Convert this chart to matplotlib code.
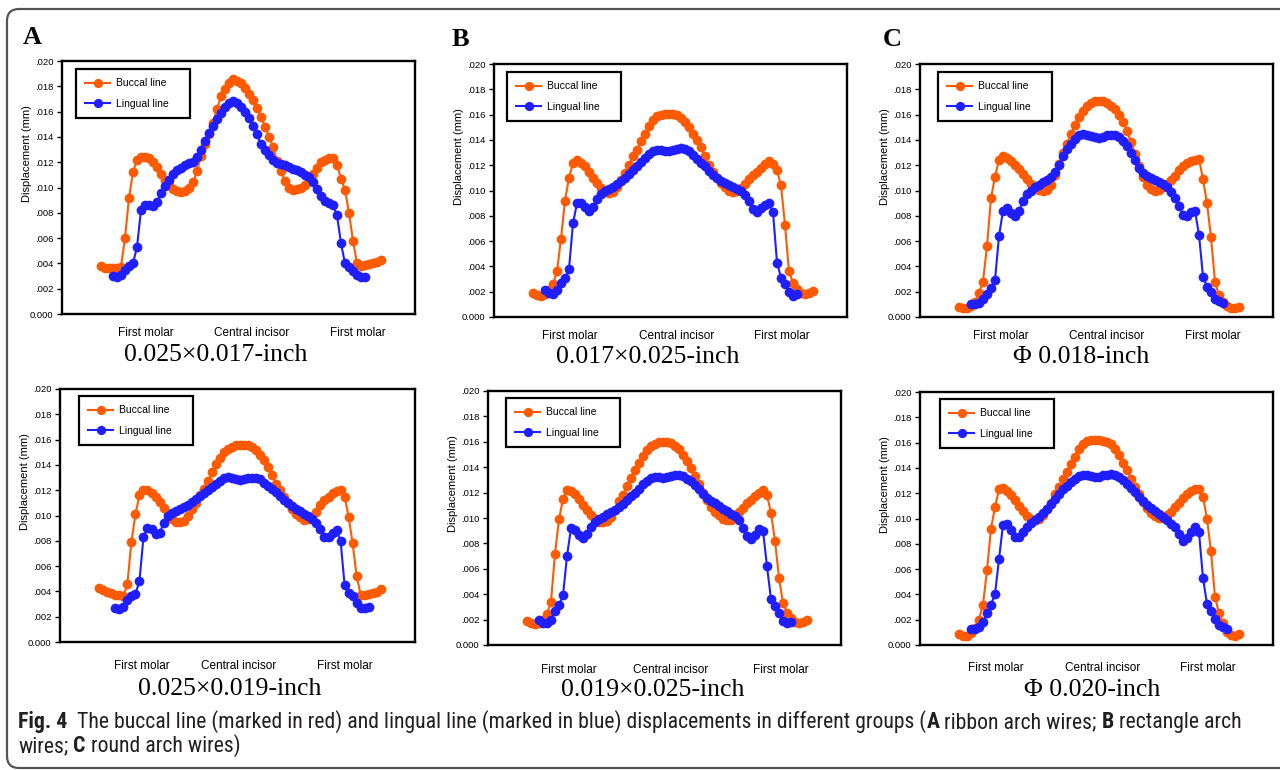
import matplotlib
matplotlib.use("Agg")
import matplotlib.pyplot as plt
from matplotlib import font_manager
from matplotlib.patches import FancyBboxPatch
import numpy as np

N = None
# ---------------- data (displacement in micrometres = 0.001 mm) ----------------
position_index = list(range(71))

buccal_025x017 = [3.8, 3.65, 3.6, 3.6, 3.65, 3.75, 6.0, 9.2, 11.2, 12.2,
                  12.4, 12.4, 12.3, 12.0, 11.6, 11.1, 10.6, 10.2, 9.9, 9.7,
                  9.65, 9.7, 10.0, 10.4, 11.3, 12.5, 13.4, 14.2, 15.1, 16.2,
                  17.2, 17.8, 18.3, 18.6, 18.45, 18.25, 17.85, 17.4, 16.95, 16.3,
                  15.6, 14.8, 14.0, 13.2, 12.1, 11.3, 10.5, 10.0, 9.8, 9.85,
                  9.95, 10.2, 10.6, 11.05, 11.55, 12.0, 12.2, 12.3, 12.3, 11.8,
                  10.7, 9.8, 8.0, 5.8, 4.0, 3.8, 3.9, 3.95, 4.0, 4.1,
                  4.3]
lingual_025x017 = [N, N, N, 3.0, 2.95, 3.1, 3.5, 3.8, 4.0, 5.3,
                   8.2, 8.65, 8.6, 8.5, 8.85, 9.6, 10.1, 10.6, 11.05, 11.4,
                   11.55, 11.75, 11.9, 12.0, 12.4, 13.0, 13.7, 14.3, 14.9, 15.4,
                   15.9, 16.4, 16.7, 16.8, 16.65, 16.4, 16.0, 15.5, 14.85, 14.2,
                   13.4, 13.0, 12.6, 12.2, 11.95, 11.85, 11.75, 11.65, 11.5, 11.35,
                   11.2, 11.0, 10.8, 10.4, 9.9, 9.3, 8.9, 8.8, 8.6, 7.8,
                   5.6, 4.0, 3.75, 3.4, 3.05, 2.95, 2.95, N, N, N,
                   N]

buccal_017x025 = [1.9, 1.75, 1.65, 1.8, 2.1, 2.6, 3.6, 6.2, 9.2, 11.0,
                  12.2, 12.4, 12.2, 11.9, 11.5, 11.0, 10.6, 10.2, 9.9, 9.8,
                  9.9, 10.3, 10.8, 11.4, 12.0, 12.7, 13.2, 13.9, 14.5, 15.1,
                  15.6, 15.85, 16.0, 16.05, 16.05, 16.05, 15.95, 15.7, 15.4, 15.0,
                  14.5, 14.0, 13.4, 12.7, 12.0, 11.5, 11.0, 10.6, 10.3, 10.0,
                  9.9, 9.95, 10.2, 10.5, 10.9, 11.2, 11.5, 11.8, 12.1, 12.3,
                  12.1, 11.6, 10.4, 7.3, 3.6, 2.7, 2.2, 1.9, 1.85, 1.9,
                  2.05]
lingual_017x025 = [N, N, N, 2.1, 1.9, 1.85, 2.1, 2.7, 3.1, 3.8,
                   7.4, 9.0, 9.05, 8.7, 8.35, 8.7, 9.3, 9.7, 9.95, 10.1,
                   10.3, 10.5, 10.75, 11.0, 11.3, 11.6, 11.9, 12.25, 12.6, 12.85,
                   13.1, 13.2, 13.2, 13.1, 13.15, 13.2, 13.3, 13.35, 13.3, 13.1,
                   12.8, 12.5, 12.2, 11.9, 11.55, 11.2, 11.0, 10.75, 10.6, 10.45,
                   10.3, 10.15, 9.95, 9.65, 9.15, 8.5, 8.3, 8.6, 8.85, 9.0,
                   8.3, 4.3, 3.1, 2.6, 1.95, 1.65, 1.8, N, N, N,
                   N]

buccal_phi018 = [0.8, 0.7, 0.7, 0.9, 1.2, 1.9, 2.8, 5.6, 9.4, 11.1,
                 12.4, 12.7, 12.6, 12.35, 12.05, 11.7, 11.3, 10.9, 10.5, 10.25,
                 10.05, 9.95, 10.05, 10.4, 11.2, 12.1, 13.0, 13.7, 14.5, 15.15,
                 15.8, 16.3, 16.7, 16.95, 17.05, 17.1, 17.05, 16.9, 16.7, 16.45,
                 16.0, 15.4, 14.7, 13.85, 12.9, 11.95, 11.1, 10.45, 10.1, 10.0,
                 10.05, 10.3, 10.55, 10.85, 11.15, 11.6, 11.9, 12.15, 12.35, 12.45,
                 12.5, 10.9, 9.0, 6.3, 2.8, 1.7, 1.2, 0.9, 0.7, 0.7,
                 0.8]
lingual_phi018 = [N, N, N, 1.05, 1.0, 1.1, 1.4, 1.8, 2.3, 2.9,
                  6.4, 8.4, 8.6, 8.25, 7.95, 8.4, 9.15, 9.7, 10.0, 10.25,
                  10.45, 10.65, 10.85, 11.1, 11.5, 12.0, 12.7, 13.3, 13.7, 14.1,
                  14.35, 14.45, 14.4, 14.3, 14.2, 14.15, 14.25, 14.35, 14.4, 14.35,
                  14.2, 13.9, 13.5, 13.0, 12.4, 11.8, 11.4, 11.15, 11.0, 10.85,
                  10.7, 10.5, 10.25, 9.9, 9.4, 8.8, 8.1, 8.0, 8.3, 8.4,
                  6.5, 3.2, 2.4, 2.0, 1.45, 1.25, 1.1, N, N, N,
                  N]

buccal_025x019 = [4.3, 4.1, 3.95, 3.85, 3.75, 3.7, 3.6, 4.6, 7.9, 10.1,
                  11.6, 12.05, 12.0, 11.8, 11.5, 11.1, 10.6, 10.15, 9.7, 9.45,
                  9.45, 9.6, 10.0, 10.5, 11.0, 11.6, 12.1, 12.7, 13.4, 14.1,
                  14.55, 15.0, 15.25, 15.45, 15.55, 15.6, 15.6, 15.55, 15.4, 15.15,
                  14.8, 14.4, 13.8, 13.2, 12.5, 12.0, 11.5, 11.0, 10.5, 10.1,
                  9.85, 9.65, 9.7, 9.9, 10.3, 10.8, 11.2, 11.5, 11.8, 11.95,
                  12.05, 11.5, 9.9, 7.8, 5.2, 3.75, 3.75, 3.8, 3.85, 3.95,
                  4.2]
lingual_025x019 = [N, N, N, N, 2.7, 2.6, 2.75, 3.3, 3.65, 3.8,
                   4.8, 8.3, 9.05, 8.9, 8.5, 8.6, 9.4, 9.95, 10.2, 10.35,
                   10.5, 10.7, 10.85, 11.05, 11.3, 11.55, 11.8, 12.0, 12.25, 12.5,
                   12.75, 12.95, 13.05, 12.95, 12.85, 12.8, 12.85, 12.95, 13.0, 12.95,
                   12.85, 12.6, 12.35, 12.1, 11.85, 11.55, 11.25, 10.95, 10.75, 10.55,
                   10.35, 10.15, 9.95, 9.75, 9.4, 8.9, 8.3, 8.3, 8.6, 8.85,
                   8.0, 4.5, 3.85, 3.65, 3.1, 2.7, 2.7, 2.8, N, N,
                   N]

buccal_019x025 = [1.9, 1.72, 1.65, 1.7, 1.95, 2.45, 3.4, 7.2, 9.9, 11.5,
                  12.2, 12.15, 11.9, 11.5, 11.05, 10.6, 10.2, 9.9, 9.7, 9.65,
                  9.75, 10.1, 10.6, 11.3, 11.85, 12.5, 13.15, 13.75, 14.35, 14.9,
                  15.35, 15.7, 15.85, 15.95, 15.97, 15.95, 15.9, 15.7, 15.4, 15.0,
                  14.5, 13.9, 13.3, 12.7, 12.0, 11.4, 10.9, 10.5, 10.2, 9.95,
                  9.85, 9.85, 10.1, 10.5, 10.8, 11.15, 11.45, 11.75, 12.0, 12.2,
                  11.8, 10.4, 8.2, 5.3, 3.3, 2.5, 2.1, 1.85, 1.75, 1.8,
                  2.0]
lingual_019x025 = [N, N, N, 1.95, 1.75, 1.75, 2.0, 2.7, 3.15, 3.9,
                   7.0, 9.2, 9.05, 8.7, 8.45, 8.75, 9.3, 9.65, 9.95, 10.1,
                   10.3, 10.5, 10.65, 10.85, 11.1, 11.4, 11.7, 12.0, 12.3, 12.65,
                   12.95, 13.15, 13.25, 13.25, 13.15, 13.2, 13.3, 13.4, 13.35, 13.3,
                   13.1, 12.9, 12.6, 12.3, 11.9, 11.6, 11.3, 11.15, 10.95, 10.7,
                   10.55, 10.35, 10.15, 9.85, 9.2, 8.55, 8.35, 8.7, 9.1, 9.0,
                   6.2, 3.6, 3.1, 2.5, 1.9, 1.7, 1.85, N, N, N,
                   N]

buccal_phi020 = [0.85, 0.72, 0.75, 0.95, 1.35, 2.0, 3.2, 5.9, 9.2, 10.9,
                 12.3, 12.45, 12.2, 11.85, 11.45, 11.0, 10.6, 10.2, 9.95, 9.9,
                 10.0, 10.25, 10.75, 11.25, 11.9, 12.5, 13.1, 13.7, 14.3, 14.9,
                 15.5, 15.85, 16.1, 16.2, 16.2, 16.2, 16.15, 16.05, 15.85, 15.5,
                 15.0, 14.4, 13.8, 13.15, 12.5, 11.9, 11.3, 10.8, 10.45, 10.2,
                 10.05, 10.05, 10.3, 10.55, 10.9, 11.25, 11.6, 11.95, 12.2, 12.35,
                 12.35, 11.7, 10.0, 7.4, 3.8, 2.5, 1.75, 1.05, 0.8, 0.75,
                 0.85]
lingual_phi020 = [N, N, N, 1.3, 1.3, 1.4, 1.85, 2.5, 3.2, 4.0,
                  6.8, 9.5, 9.55, 9.1, 8.5, 8.5, 8.9, 9.3, 9.65, 9.9,
                  10.15, 10.45, 10.75, 11.15, 11.55, 11.95, 12.3, 12.6, 12.9, 13.15,
                  13.35, 13.45, 13.45, 13.35, 13.3, 13.3, 13.4, 13.45, 13.5, 13.45,
                  13.3, 13.05, 12.75, 12.45, 12.1, 11.7, 11.35, 11.05, 10.85, 10.6,
                  10.35, 10.1, 9.85, 9.6, 9.3, 8.75, 8.2, 8.45, 8.9, 9.3,
                  8.9, 5.3, 3.25, 2.7, 2.05, 1.6, 1.4, 1.25, N, N,
                  N]

panel_titles = ["0.025×0.017-inch", "0.017×0.025-inch", "Φ 0.018-inch",
                "0.025×0.019-inch", "0.019×0.025-inch", "Φ 0.020-inch"]
panel_letters = ["A", "B", "C"]
series_names = ["Buccal line", "Lingual line"]
category_labels = ["First molar", "Central incisor", "First molar"]
ytick_values = [0.000, 0.002, 0.004, 0.006, 0.008, 0.010, 0.012, 0.014, 0.016, 0.018, 0.020]
ytick_labels = ["0.000", ".002", ".004", ".006", ".008", ".010", ".012", ".014", ".016", ".018", ".020"]
ylabel_text = "Displacement (mm)"

# ---------------- style ----------------
W, H = 1280, 770
ORANGE = "#FF5A00"
BLUE = "#1E1EFF"
SANS = ["Liberation Sans", "DejaVu Sans"]
SERIF = ["Liberation Serif", "DejaVu Serif"]

avail = {f.name for f in font_manager.fontManager.ttflist}
CAP_FONT = "Liberation Sans"
for cand in ["Liberation Sans Narrow", "Roboto Condensed", "Open Sans Condensed",
             "Noto Sans Condensed", "DejaVu Sans Condensed"]:
    if cand in avail:
        CAP_FONT = cand
        break

fig = plt.figure(figsize=(W / 100, H / 100), dpi=100)
fig.patch.set_facecolor("white")

# overlay in pixel coordinates (for frame and free text)
ov = fig.add_axes([0, 0, 1, 1], zorder=0)
ov.set_xlim(0, W)
ov.set_ylim(H, 0)
ov.axis("off")
ov.patch.set_alpha(0)

frame = FancyBboxPatch((7, 9), 1310, 759, boxstyle="round,pad=0,rounding_size=12",
                       fill=False, ec="#555555", lw=1.6, clip_on=False)
ov.add_patch(frame)

panels = [
    dict(rect=(62, 61, 415, 314), b=buccal_025x017, l=lingual_025x017, title_xy=(216, 355),
         leg=(14, 8), cat_x=(0.237, 0.537, 0.838), cat_dy=19),
    dict(rect=(494, 64, 847, 317), b=buccal_017x025, l=lingual_017x025, title_xy=(648, 357),
         leg=(13, 8), cat_x=(0.215, 0.516, 0.816), cat_dy=19),
    dict(rect=(920, 64, 1273, 317), b=buccal_phi018, l=lingual_phi018, title_xy=(1081, 357),
         leg=(18, 8), cat_x=(0.229, 0.53, 0.83), cat_dy=19),
    dict(rect=(60, 389, 415, 642), b=buccal_025x019, l=lingual_025x019, title_xy=(230, 689),
         leg=(19, 7), cat_x=(0.231, 0.504, 0.803), cat_dy=24),
    dict(rect=(488, 391, 841, 645), b=buccal_019x025, l=lingual_019x025, title_xy=(653, 690),
         leg=(18, 7), cat_x=(0.229, 0.518, 0.83), cat_dy=25),
    dict(rect=(920, 392, 1273, 645), b=buccal_phi020, l=lingual_phi020, title_xy=(1092, 690),
         leg=(20, 7), cat_x=(0.215, 0.516, 0.816), cat_dy=23),
]

x = np.array(position_index, dtype=float)


def to_arr(vals):
    return np.array([np.nan if v is None else v for v in vals], dtype=float) / 1000.0


for k, p in enumerate(panels):
    l, t, r, b = p["rect"]
    pw, ph = r - l, b - t
    ax = fig.add_axes([l / W, 1 - b / H, pw / W, ph / H], zorder=2)
    ax.set_facecolor("white")
    ax.plot(x, to_arr(p["b"]), color=ORANGE, lw=1.5, marker="o", ms=7.0, mew=0,
            label=series_names[0], zorder=3)
    ax.plot(x, to_arr(p["l"]), color=BLUE, lw=1.5, marker="o", ms=7.0, mew=0,
            label=series_names[1], zorder=4)
    ax.set_xlim(-9.75, 78.5)
    ax.set_ylim(0, 0.020)
    ax.set_xticks([])
    ax.set_yticks(ytick_values)
    ax.set_yticklabels(ytick_labels, family=SANS, fontsize=6.8)
    ax.tick_params(axis="y", direction="out", length=3.5, width=1.0, pad=2.5, colors="black")
    for s in ax.spines.values():
        s.set_linewidth(1.7)
        s.set_color("black")
    ax.set_ylabel(ylabel_text, family=SANS, fontsize=8)
    ax.yaxis.set_label_coords(-30 / pw, 0.635)

    dx, dy = p["leg"]
    leg = ax.legend(loc="upper left", bbox_to_anchor=(dx / pw, 1 - dy / ph - 0.3, 114 / pw, 0.3),
                    mode="expand", borderaxespad=0, fancybox=False, framealpha=1,
                    prop={"family": SANS, "size": 7.5}, borderpad=0.9, labelspacing=1.0,
                    handlelength=2.4, handletextpad=0.55, numpoints=1, markerscale=0.95)
    leg.get_frame().set_edgecolor("black")
    leg.get_frame().set_linewidth(1.6)
    leg.set_zorder(6)

    for cx, lab in zip(p["cat_x"], category_labels):
        ax.text(cx, -p["cat_dy"] / ph, lab, transform=ax.transAxes, ha="center", va="center",
                family=SANS, fontsize=8.5, color="black")

    tx, ty = p["title_xy"]
    ov.text(tx, ty, panel_titles[k], ha="center", va="center", family=SERIF, fontsize=18.5,
            color="black")

for (lx, ly), letter in zip([(32, 38), (460, 40), (892, 40)], panel_letters):
    ov.text(lx, ly, letter, ha="center", va="center", family=SERIF, fontsize=19,
            fontweight="bold", color="black")

# ---------------- caption ----------------
CAP_COLOR = "#231F20"
line1 = [("Fig. 4", "bold", 10), ("The buccal line (marked in red) and lingual line (marked in blue) "
         "displacements in different groups (", "normal", 0), ("A", "bold", 1),
         ("ribbon arch wires;", "normal", 1), ("B", "bold", 1), ("rectangle arch", "normal", 0)]
line2 = [("wires;", "normal", 1), ("C", "bold", 1), ("round arch wires)", "normal", 0)]

renderer = fig.canvas.get_renderer()


def draw_runs(runs, x0, y, size):
    objs = []
    sp = ov.text(0, 0, "a a", family=CAP_FONT, fontsize=size)
    sp2 = ov.text(0, 0, "aa", family=CAP_FONT, fontsize=size)
    space_w = sp.get_window_extent(renderer).width - sp2.get_window_extent(renderer).width
    sp.remove()
    sp2.remove()
    xx = x0
    for txt, wt, gap in runs:
        o = ov.text(xx, y, txt, family=CAP_FONT, fontweight=wt, fontsize=size, ha="left",
                    va="baseline", color=CAP_COLOR)
        objs.append(o)
        xx += o.get_window_extent(renderer).width
        if gap == 1:
            xx += space_w
        elif gap > 1:
            xx += gap
    return objs, xx


size = 13.0
objs, xend = draw_runs(line1, 18, 728, size)
scale = (1237 - 18) / (xend - 18)
for o in objs:
    o.remove()
size *= scale
draw_runs(line1, 18, 728, size)
draw_runs(line2, 18, 752, size)

fig.savefig("out.png", dpi=100, facecolor="white")
